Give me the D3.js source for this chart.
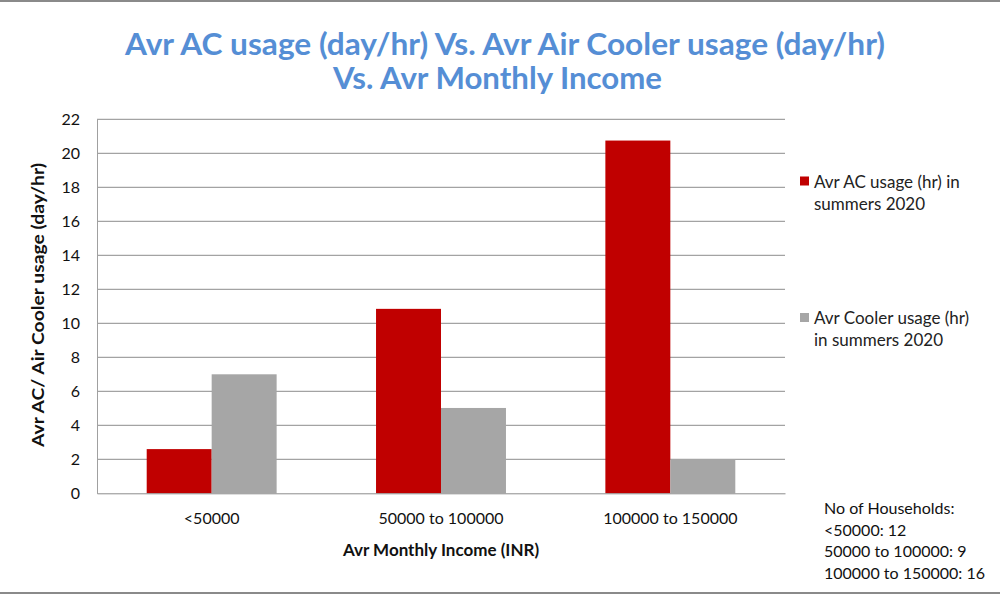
<!DOCTYPE html>
<html>
<head>
<meta charset="utf-8">
<script src="https://cdn.jsdelivr.net/npm/d3@7"></script>
<style>
  body { margin: 0; background: #fff; }
  text { font-family: Lato, "Open Sans", sans-serif; }
</style>
</head>
<body>
<script>
const width = 1000,
    height = 600;

// data
const categories = ['<50000', '50000 to 100000', '100000 to 150000'];
const acUsage = [2.6, 10.85, 20.75];
const coolerUsage = [7.0, 5.02, 2.0];
const seriesNames = ['Avr AC usage (hr) in summers 2020', 'Avr Cooler usage (hr) in summers 2020'];
const yTicks = [0, 2, 4, 6, 8, 10, 12, 14, 16, 18, 20, 22];
const householdNote = ['No of Households:', '<50000: 12', '50000 to 100000: 9', '100000 to 150000: 16'];

const colors = ['#c00000', '#a6a6a6'];
const plot = {left: 97, right: 785, top: 119.3, bottom: 493.3};

var svg = d3.select('body').append('svg')
    .attr('width', width)
    .attr('height', height);

// frame lines
svg.append('line').attr('x1', 0).attr('x2', width).attr('y1', 1).attr('y2', 1)
    .attr('stroke', '#8a8a8a').attr('stroke-width', 2);
svg.append('line').attr('x1', 0).attr('x2', width).attr('y1', 593).attr('y2', 593)
    .attr('stroke', '#8a8a8a').attr('stroke-width', 2);

// title
var title = svg.append('text')
    .attr('text-anchor', 'middle')
    .attr('fill', '#558ed5')
    .style('font-weight', 'bold')
    .style('font-size', '30px');
title.append('tspan').attr('x', 505).attr('y', 55)
    .attr('textLength', 760).attr('lengthAdjust', 'spacingAndGlyphs')
    .text('Avr AC usage (day/hr) Vs. Avr Air Cooler usage (day/hr)');
title.append('tspan').attr('x', 497.5).attr('y', 89)
    .attr('textLength', 329).attr('lengthAdjust', 'spacingAndGlyphs')
    .text('Vs. Avr Monthly Income');

var x0 = d3.scaleBand()
    .domain(categories)
    .range([plot.left, plot.right])
    .paddingInner(0)
    .paddingOuter(0);

var x1 = d3.scaleBand()
    .domain([0, 1])
    .range([0, x0.bandwidth()])
    .paddingInner(0)
    .paddingOuter(0.765);

var y = d3.scaleLinear()
    .domain([0, 22])
    .range([plot.bottom, plot.top]);

// gridlines
svg.append('g')
    .selectAll('line')
    .data(yTicks.slice(1))
  .enter().append('line')
    .attr('x1', plot.left)
    .attr('x2', plot.right)
    .attr('y1', d => y(d))
    .attr('y2', d => y(d))
    .attr('stroke', '#8c8c8c')
    .attr('stroke-width', 1);

// y axis
var yAxis = svg.append('g')
    .attr('transform', `translate(${plot.left},0)`)
    .call(d3.axisLeft(y).tickValues(yTicks).tickSize(0).tickPadding(17));
yAxis.select('.domain').attr('stroke', '#a0a0a0');
yAxis.selectAll('text')
    .style('font-size', '16px')
    .style('font-family', 'Lato, sans-serif')
    .attr('fill', '#111');

// bars
var groups = svg.append('g')
    .selectAll('g')
    .data(categories)
  .enter().append('g')
    .attr('transform', d => `translate(${x0(d)},0)`);

groups.selectAll('rect')
    .data((d, i) => [acUsage[i], coolerUsage[i]])
  .enter().append('rect')
    .attr('x', (v, j) => x1(j))
    .attr('width', x1.bandwidth())
    .attr('y', v => y(v))
    .attr('height', v => y(0) - y(v))
    .attr('fill', (v, j) => colors[j]);

// x axis
var xAxis = svg.append('g')
    .attr('transform', `translate(0,${plot.bottom})`)
    .call(d3.axisBottom(x0).tickSize(0).tickPadding(19));
xAxis.select('.domain').attr('stroke', '#8c8c8c');
xAxis.selectAll('text')
    .style('font-size', '16px')
    .style('font-family', 'Lato, sans-serif')
    .attr('fill', '#111');

// axis titles
svg.append('text')
    .attr('x', (plot.left + plot.right) / 2)
    .attr('y', 556)
    .attr('text-anchor', 'middle')
    .style('font-weight', 'bold')
    .style('font-size', '17px')
    .attr('fill', '#111')
    .text('Avr Monthly Income (INR)');

svg.append('text')
    .attr('transform', 'translate(44,305) rotate(-90)')
    .attr('text-anchor', 'middle')
    .style('font-weight', 'bold')
    .style('font-size', '17px')
    .attr('textLength', 284)
    .attr('lengthAdjust', 'spacingAndGlyphs')
    .attr('fill', '#111')
    .text('Avr AC/ Air Cooler usage (day/hr)');

// legend
var legendLines = [['Avr AC usage (hr) in', 'summers 2020'], ['Avr Cooler usage (hr)', 'in summers 2020']];
var legend = svg.append('g')
    .selectAll('g')
    .data(seriesNames)
  .enter().append('g')
    .attr('transform', (d, i) => `translate(800,${176.5 + i * 136.5})`);
legend.append('rect')
    .attr('width', 9)
    .attr('height', 9)
    .attr('fill', (d, i) => colors[i]);
legend.append('text')
    .style('font-size', '17px')
    .attr('fill', '#222')
    .selectAll('tspan')
    .data((d, i) => legendLines[i])
  .enter().append('tspan')
    .attr('x', 14)
    .attr('y', (d, k) => 11 + k * 22)
    .text(d => d);

// households note
svg.append('text')
    .style('font-size', '16px')
    .attr('fill', '#111')
    .selectAll('tspan')
    .data(householdNote)
  .enter().append('tspan')
    .attr('x', 824)
    .attr('y', (d, i) => 514 + i * 21.7)
    .text(d => d);
</script>
</body>
</html>
